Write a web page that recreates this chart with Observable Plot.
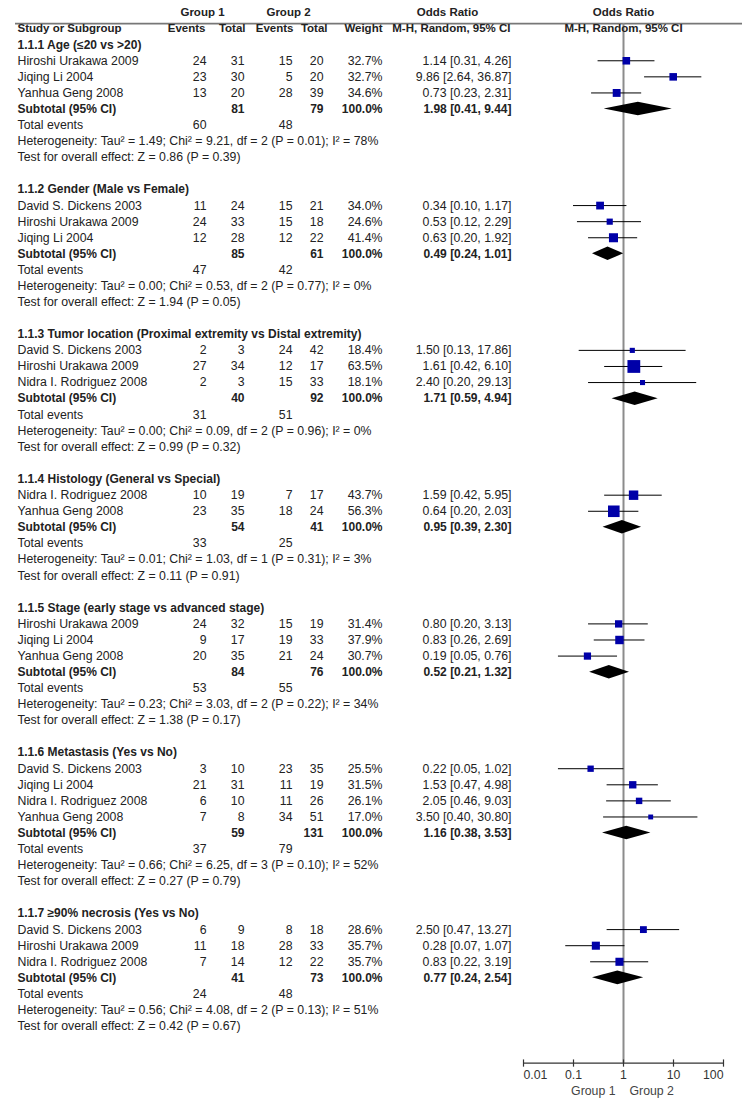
<!DOCTYPE html>
<html><head><meta charset="utf-8">
<script src="https://cdn.jsdelivr.net/npm/d3@7"></script>
<script src="https://cdn.jsdelivr.net/npm/@observablehq/plot@0.6"></script>
<style>body{margin:0;background:#fff;}</style>
</head><body><div id="chart"></div>
<script>
// ---------- data ----------
const subgroupNames = [
  "1.1.1 Age (≤20 vs >20)",
  "1.1.2 Gender (Male vs Female)",
  "1.1.3 Tumor location (Proximal extremity vs Distal extremity)",
  "1.1.4 Histology (General vs Special)",
  "1.1.5 Stage (early stage vs advanced stage)",
  "1.1.6 Metastasis (Yes vs No)",
  "1.1.7 ≥90% necrosis (Yes vs No)"
];
const studyGroup = [0,0,0, 1,1,1, 2,2,2, 3,3, 4,4,4, 5,5,5,5, 6,6,6];
const studyNames = [
  "Hiroshi Urakawa 2009","Jiqing Li 2004","Yanhua Geng 2008",
  "David S. Dickens 2003","Hiroshi Urakawa 2009","Jiqing Li 2004",
  "David S. Dickens 2003","Hiroshi Urakawa 2009","Nidra I. Rodriguez 2008",
  "Nidra I. Rodriguez 2008","Yanhua Geng 2008",
  "Hiroshi Urakawa 2009","Jiqing Li 2004","Yanhua Geng 2008",
  "David S. Dickens 2003","Jiqing Li 2004","Nidra I. Rodriguez 2008","Yanhua Geng 2008",
  "David S. Dickens 2003","Hiroshi Urakawa 2009","Nidra I. Rodriguez 2008"
];
const events1 = [24,23,13, 11,24,12, 2,27,2, 10,23, 24,9,20, 3,21,6,7, 6,11,7];
const total1  = [31,30,20, 24,33,28, 3,34,3, 19,35, 32,17,35, 10,31,10,8, 9,18,14];
const events2 = [15,5,28, 15,15,12, 24,12,15, 7,18, 15,19,21, 23,11,11,34, 8,28,12];
const total2  = [20,20,39, 21,18,22, 42,17,33, 17,24, 19,33,24, 35,19,26,51, 18,33,22];
const weights = [32.7,32.7,34.6, 34.0,24.6,41.4, 18.4,63.5,18.1, 43.7,56.3, 31.4,37.9,30.7, 25.5,31.5,26.1,17.0, 28.6,35.7,35.7];
const orEst = [1.14,9.86,0.73, 0.34,0.53,0.63, 1.50,1.61,2.40, 1.59,0.64, 0.80,0.83,0.19, 0.22,1.53,2.05,3.50, 2.50,0.28,0.83];
const orLo  = [0.31,2.64,0.23, 0.10,0.12,0.20, 0.13,0.42,0.20, 0.42,0.20, 0.20,0.26,0.05, 0.05,0.47,0.46,0.40, 0.47,0.07,0.22];
const orHi  = [4.26,36.87,2.31, 1.17,2.29,1.92, 17.86,6.10,29.13, 5.95,2.03, 3.13,2.69,0.76, 1.02,4.98,9.03,30.80, 13.27,1.07,3.19];

const subTotal1 = [81,85,40,54,84,59,41];
const subTotal2 = [79,61,92,41,76,131,73];
const subEst = [1.98,0.49,1.71,0.95,0.52,1.16,0.77];
const subLo  = [0.41,0.24,0.59,0.39,0.21,0.38,0.24];
const subHi  = [9.44,1.01,4.94,2.30,1.32,3.53,2.54];
const totEvents1 = [60,47,31,33,53,37,24];
const totEvents2 = [48,42,51,25,55,79,48];
const tau2 = [1.49,0.00,0.00,0.01,0.23,0.66,0.56];
const chi2 = [9.21,0.53,0.09,1.03,3.03,6.25,4.08];
const dfHet = [2,2,2,1,2,3,2];
const pHet = [0.01,0.77,0.96,0.31,0.22,0.10,0.13];
const i2 = [78,0,0,3,34,52,51];
const zVal = [0.86,1.94,0.99,0.11,1.38,0.27,0.42];
const pZ = [0.39,0.05,0.32,0.91,0.17,0.79,0.67];

const ticks = [0.01,0.1,1,10,100];
const tickLabels = ["0.01","0.1","1","10","100"];

// ---------- layout rows ----------
const f2 = v => v.toFixed(2);
const ciText = (e,l,h) => `${f2(e)} [${f2(l)}, ${f2(h)}]`;
const headers = [], studies = [], subs = [], totRows = [], hetRows = [], testRows = [], diamond = [];
let idx = 0;
subgroupNames.forEach((name, g) => {
  headers.push({idx: idx++, label: name});
  studyNames.forEach((s, i) => {
    if (studyGroup[i] !== g) return;
    studies.push({idx: idx++, name: s, e1: events1[i], t1: total1[i], e2: events2[i], t2: total2[i],
      w: weights[i], est: orEst[i], lo: orLo[i], hi: orHi[i]});
  });
  const si = idx++;
  subs.push({idx: si, t1: subTotal1[g], t2: subTotal2[g], ci: ciText(subEst[g], subLo[g], subHi[g])});
  const hh = 0.42;
  diamond.push({g, y: si - hh, x1: subEst[g], x2: subEst[g]});
  diamond.push({g, y: si, x1: subLo[g], x2: subHi[g]});
  diamond.push({g, y: si + hh, x1: subEst[g], x2: subEst[g]});
  totRows.push({idx: idx++, e1: totEvents1[g], e2: totEvents2[g]});
  hetRows.push({idx: idx++, label: `Heterogeneity: Tau² = ${f2(tau2[g])}; Chi² = ${f2(chi2[g])}, df = ${dfHet[g]} (P = ${f2(pHet[g])}); I² = ${i2[g]}%`});
  testRows.push({idx: idx++, label: `Test for overall effect: Z = ${f2(zVal[g])} (P = ${f2(pZ[g])})`});
  idx++;
});

const headerLineRow = -1.31, axisRow = 63.3, tickLabelRow = 64.05, groupLabelRow = 65.05;
const ink = "#222";
const fs = 12.3, fsb = 12, fsh = 11.5;

const txt = (data, text, dx, anchor, bold, size) => Plot.text(data, {
  y: "idx", text, frameAnchor: "left", dx, textAnchor: anchor,
  fontWeight: bold ? "bold" : "normal", fontSize: size || (bold ? fsb : fs), fill: ink
});

const head1 = [{idx: -2}], head2 = [{idx: -1}];

const chart = Plot.plot({
  width: 742, height: 1103, margin: 0,
  x: {type: "log", domain: [0.01, 100], range: [523, 723], axis: null},
  y: {domain: [-2, 65], range: [12, 1090], axis: null},
  r: {type: "linear", domain: [0, 100], range: [2 / Math.sqrt(Math.PI), 19 / Math.sqrt(Math.PI)]},
  style: {fontFamily: "'Liberation Sans', Arial, sans-serif", fontSize: "12px", background: "#fff"},
  marks: [
    // header line and null line
    Plot.ruleY([headerLineRow], {insetLeft: 15, stroke: "#777", strokeWidth: 1.6}),
    Plot.ruleX([1], {y1: headerLineRow, y2: axisRow, stroke: "#8c8c8c", strokeWidth: 2}),
    // axis
    Plot.ruleY([axisRow], {x1: 0.01, x2: 100, stroke: "#333", strokeWidth: 1.3}),
    Plot.ruleX(ticks, {y1: axisRow - 0.2, y2: axisRow + 0.25, stroke: "#333", strokeWidth: 1.2}),
    Plot.text(ticks.slice(0, 1), {x: d => d, y: () => tickLabelRow, text: () => tickLabels[0], textAnchor: "start", fontSize: fs, fill: "#333"}),
    Plot.text(ticks.slice(1, 4), {x: d => d, y: () => tickLabelRow, text: d => tickLabels[ticks.indexOf(d)], textAnchor: "middle", fontSize: fs, fill: "#333"}),
    Plot.text(ticks.slice(4), {x: d => d, y: () => tickLabelRow, text: () => tickLabels[4], textAnchor: "end", fontSize: fs, fill: "#333"}),
    Plot.text(["Group 1"], {x: () => 1, y: () => groupLabelRow, text: d => d, textAnchor: "end", dx: -8, fontSize: fs, fill: "#444"}),
    Plot.text(["Group 2"], {x: () => 1, y: () => groupLabelRow, text: d => d, textAnchor: "start", dx: 6, fontSize: fs, fill: "#444"}),
    // column headers
    txt(head1, () => "Group 1", 202, "middle", true, fsh),
    txt(head1, () => "Group 2", 288, "middle", true, fsh),
    txt(head1, () => "Odds Ratio", 447, "middle", true, fsh),
    Plot.text(head1, {x: () => 1, y: "idx", text: () => "Odds Ratio", textAnchor: "middle", fontWeight: "bold", fontSize: fsh, fill: ink}),
    txt(head2, () => "Study or Subgroup", 17, "start", true, fsh),
    txt(head2, () => "Events", 205, "end", true, fsh),
    txt(head2, () => "Total", 245, "end", true, fsh),
    txt(head2, () => "Events", 293, "end", true, fsh),
    txt(head2, () => "Total", 327, "end", true, fsh),
    txt(head2, () => "Weight", 382, "end", true, fsh),
    txt(head2, () => "M-H, Random, 95% CI", 510, "end", true, fsh),
    Plot.text(head2, {x: () => 1, y: "idx", text: () => "M-H, Random, 95% CI", textAnchor: "middle", fontWeight: "bold", fontSize: fsh, fill: ink}),
    // subgroup headers
    txt(headers, "label", 17, "start", true),
    // studies
    txt(studies, "name", 17, "start", false),
    txt(studies, "e1", 206, "end", false),
    txt(studies, "t1", 244, "end", false),
    txt(studies, "e2", 292, "end", false),
    txt(studies, "t2", 323, "end", false),
    txt(studies, d => d.w.toFixed(1) + "%", 382, "end", false),
    txt(studies, d => ciText(d.est, d.lo, d.hi), 511, "end", false),
    // subtotals
    txt(subs, () => "Subtotal (95% CI)", 17, "start", true),
    txt(subs, "t1", 244, "end", true),
    txt(subs, "t2", 323, "end", true),
    txt(subs, () => "100.0%", 382, "end", true),
    txt(subs, "ci", 511, "end", true),
    // totals / heterogeneity / test
    txt(totRows, () => "Total events", 17, "start", false),
    txt(totRows, "e1", 206, "end", false),
    txt(totRows, "e2", 292, "end", false),
    txt(hetRows, "label", 17, "start", false),
    txt(testRows, "label", 17, "start", false),
    // forest marks
    Plot.ruleY(studies, {y: "idx", x1: "lo", x2: "hi", stroke: "#000", strokeWidth: 1}),
    Plot.dot(studies, {x: "est", y: "idx", r: "w", symbol: "square", fill: "#0000a8"}),
    Plot.areaX(diamond, {y: "y", x1: "x1", x2: "x2", z: "g", fill: "#000"})
  ]
});
document.getElementById("chart").append(chart);
</script>
</body></html>
